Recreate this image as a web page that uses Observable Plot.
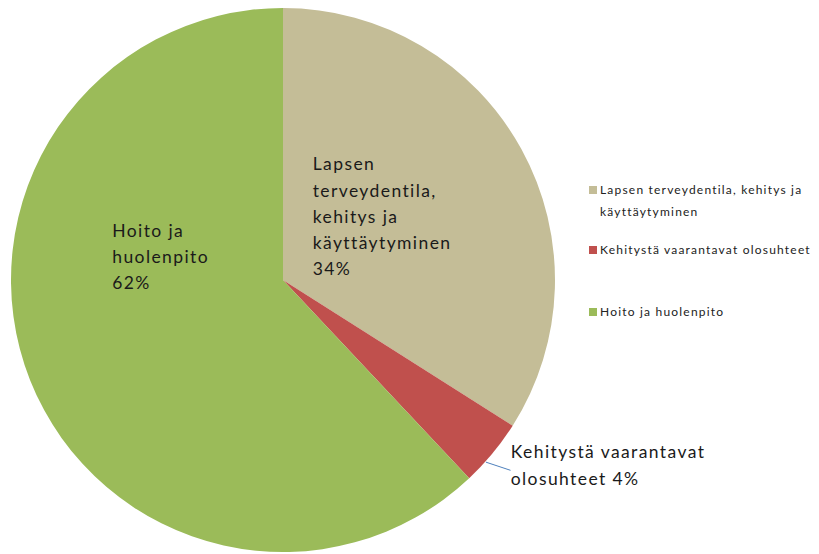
<!DOCTYPE html>
<html>
<head>
<meta charset="utf-8">
<script src="https://cdn.jsdelivr.net/npm/d3@7"></script>
<script src="https://cdn.jsdelivr.net/npm/@observablehq/plot@0.6"></script>
<style>
  html, body { margin: 0; padding: 0; background: #fff; }
  #wrap { position: relative; width: 819px; height: 554px; }
  #wrap svg text { letter-spacing: 1.4px; }
  #legend { position: absolute; left: 589px; top: 179px; font-family: Lato, "Open Sans", sans-serif; font-size: 12px; letter-spacing: 1.2px; color: #222; }
  .li { position: absolute; left: 0; white-space: nowrap; line-height: 22px; }
  .sw { display: inline-block; width: 8px; height: 8px; margin-right: 3px; vertical-align: 0px; }
</style>
</head>
<body>
<div id="wrap"></div>
<script>
const categories = ["Lapsen terveydentila, kehitys ja käyttäytyminen", "Kehitystä vaarantavat olosuhteet", "Hoito ja huolenpito"];
const labelLines = ["Lapsen\nterveydentila,\nkehitys ja\nkäyttäytyminen", "Kehitystä vaarantavat\nolosuhteet", "Hoito ja\nhuolenpito"];
const legendLines = ["Lapsen terveydentila, kehitys ja\nkäyttäytyminen", "Kehitystä vaarantavat olosuhteet", "Hoito ja huolenpito"];
const values = [34, 4, 62];
const colors = ["#C4BD97", "#C0504D", "#9BBB59"];

const W = 819, H = 554;
const CX = 283, CY = 280, R = 272;

const arcs = d3.pie().sort(null).value(d => d)(values);
const rows = arcs.map((a, i) => ({
  cat: categories[i], value: values[i], label: labelLines[i] + (i === 1 ? " " : "\n") + values[i] + "%",
  start: a.startAngle, end: a.endAngle, mid: (a.startAngle + a.endAngle) / 2
}));
const polar = (ang, r) => [CX + r * Math.sin(ang), CY - r * Math.cos(ang)];
const deg = Math.PI / 180;
// label anchor (top-left of text block) in polar terms relative to slice mid-angle
const labelPlace = [{da: -48.4 * deg, rf: 0.485}, {da: -4.6 * deg, rf: 1.02}, {da: 41.6 * deg, rf: 0.67}];
rows.forEach((d, i) => {
  const [lx, ly] = polar(d.mid + labelPlace[i].da, labelPlace[i].rf * R);
  d.lx = lx; d.ly = ly;
});
const leader = rows.filter((d, i) => i === 1).map(d => {
  const [x1, y1] = polar(d.mid + 2.3 * deg, R);
  const [x2, y2] = polar(d.mid + 0.3 * deg, 1.088 * R);
  return {x1, y1, x2, y2};
});

const pieMark = (index, scales) => {
  const g = d3.create("svg:g");
  const arc = d3.arc().innerRadius(0);
  const cx = scales.x(CX), cy = scales.y(CY);
  const rpx = scales.x(CX + R) - cx;
  g.selectAll("path").data(rows).join("path")
    .attr("transform", `translate(${cx},${cy})`)
    .attr("d", d => arc({startAngle: d.start, endAngle: d.end, outerRadius: rpx}))
    .attr("fill", (d, i) => colors[i]);
  return g.node();
};

const chart = Plot.plot({
  width: W, height: H,
  margin: 0,
  x: {domain: [0, W], range: [0, W], axis: null},
  y: {domain: [0, H], range: [0, H], axis: null},
  marks: [
    pieMark,
    Plot.link(leader, {x1: "x1", y1: "y1", x2: "x2", y2: "y2", stroke: "#4F81BD", strokeWidth: 1}),
    Plot.text(rows, {x: "lx", y: "ly", text: "label", textAnchor: "start", lineAnchor: "top",
      lineHeight: 1.5, fontSize: 17.5, fill: "#1a1a1a", fontFamily: "Lato, 'Open Sans', sans-serif"})
  ]
});
const wrap = document.getElementById("wrap");
wrap.appendChild(chart);

const legend = document.createElement("div");
legend.id = "legend";
const tops = [0, 60, 122];
legendLines.forEach((t, i) => {
  const li = document.createElement("div");
  li.className = "li";
  li.style.top = tops[i] + "px";
  const parts = t.split("\n");
  li.innerHTML = `<span class="sw" style="background:${colors[i]}"></span>${parts[0]}` +
    (parts[1] ? `<br><span style="padding-left:11px">${parts[1]}</span>` : "");
  legend.appendChild(li);
});
wrap.appendChild(legend);
</script>
</body>
</html>
